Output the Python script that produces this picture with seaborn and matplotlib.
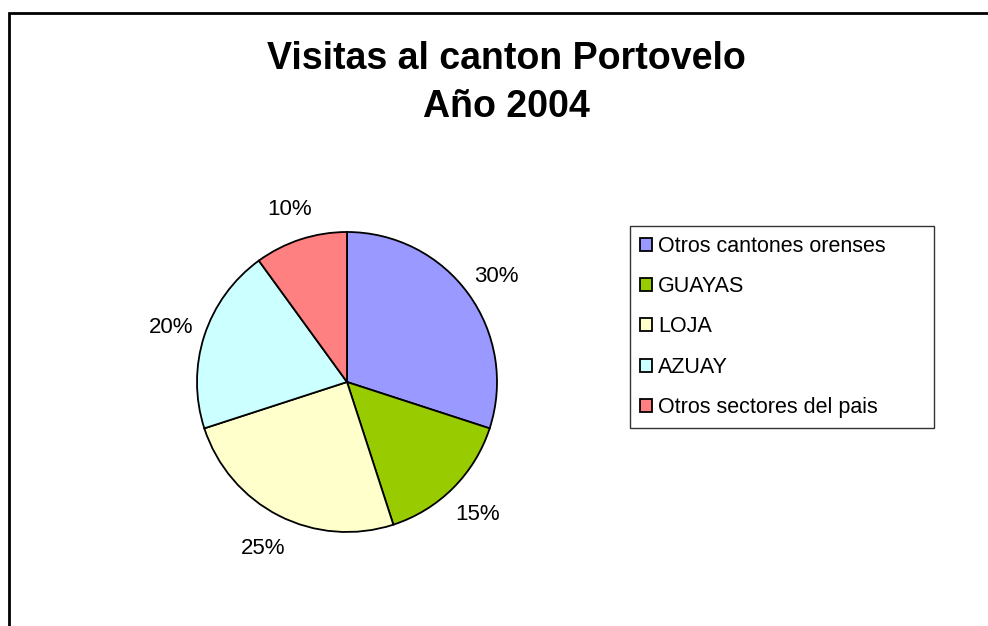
import matplotlib
matplotlib.use("Agg")
import matplotlib.pyplot as plt
import seaborn as sns
from matplotlib.patches import Rectangle

# Data
categories = ["Otros cantones orenses", "GUAYAS", "LOJA", "AZUAY", "Otros sectores del pais"]
shares = [30, 15, 25, 20, 10]
colors = ["#9999FF", "#99CC00", "#FFFFCC", "#CCFFFF", "#FF8080"]

sns.set_theme(style="white")
plt.rcParams["font.family"] = ["Liberation Sans", "DejaVu Sans"]
plt.rcParams["text.color"] = "black"

fig = plt.figure(figsize=(9.88, 6.26), dpi=100)
W, H = 988, 626

# outer chart border (cut off at right and bottom)
fig.patches.append(Rectangle((8.5 / W, -0.1), 1.2, 1 - 12.5 / H + 0.1,
                             transform=fig.transFigure, fill=False,
                             edgecolor="black", linewidth=2))

cx, cy, r = 347, 382, 150
ax = fig.add_axes([(cx - r) / W, (H - cy - r) / H, 2 * r / W, 2 * r / H])
wedges, texts, autotexts = ax.pie(
    shares, colors=colors, startangle=90, counterclock=False,
    autopct="%.0f%%", pctdistance=1.23, radius=1,
    wedgeprops=dict(edgecolor="black", linewidth=1.3),
    textprops=dict(fontsize=16, color="black"))
for t in autotexts:
    t.set_va("center_baseline")
ax.set_xlim(-1.0, 1.0)
ax.set_ylim(-1.0, 1.0)
ax.set_aspect("equal")
ax.axis("off")

fig.text(506 / W, 1 - 83 / H, "Visitas al canton Portovelo\nAño 2004",
         ha="center", va="center", fontsize=27, fontweight="bold",
         color="black", linespacing=1.4)

leg = fig.legend(wedges, categories, loc="upper left",
                 bbox_to_anchor=(630 / W, 1 - 426 / H, 304 / W, 200 / H),
                 mode="expand", fontsize=15.5, frameon=True, fancybox=False,
                 edgecolor="black", handlelength=0.55, handleheight=0.55,
                 handletextpad=0.3, labelspacing=0.9, borderpad=0.45,
                 borderaxespad=0)
leg.get_frame().set_linewidth(1.0)
for h in leg.legend_handles:
    h.set_linewidth(1.3)

fig.savefig("out.png", dpi=100)
